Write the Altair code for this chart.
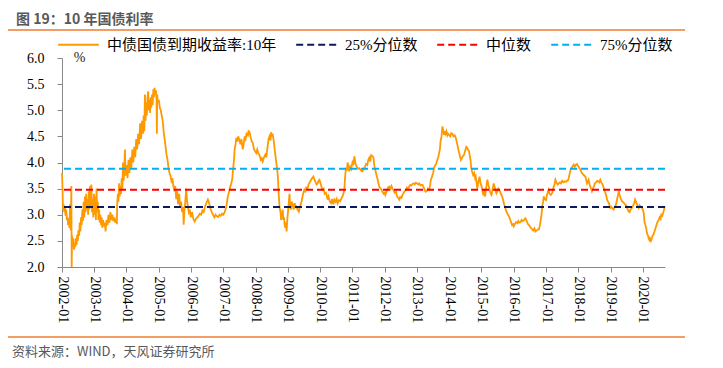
import altair as alt
import pandas as pd

# ---------------- data ----------------
line_name = "中债国债到期收益率:10年"
ref_names = ["25%分位数", "中位数", "75%分位数"]
ref_values = [3.15, 3.48, 3.88]

t_2002_2005 = [2002.00, 2002.01, 2002.02, 2002.03, 2002.05, 2002.07, 2002.09, 2002.11, 2002.13, 2002.15,
               2002.17, 2002.19, 2002.21, 2002.23, 2002.25, 2002.27, 2002.29, 2002.30, 2002.31, 2002.33,
               2002.35, 2002.37, 2002.39, 2002.41, 2002.43, 2002.45, 2002.47, 2002.49, 2002.51, 2002.53,
               2002.55, 2002.57, 2002.59, 2002.61, 2002.63, 2002.65, 2002.67, 2002.69, 2002.71, 2002.73,
               2002.75, 2002.77, 2002.79, 2002.81, 2002.83, 2002.85, 2002.87, 2002.89, 2002.91, 2002.93,
               2002.95, 2002.97, 2002.99, 2003.01, 2003.03, 2003.05, 2003.07, 2003.09, 2003.11, 2003.13,
               2003.15, 2003.17, 2003.19, 2003.21, 2003.23, 2003.25, 2003.27, 2003.30, 2003.33, 2003.35,
               2003.38, 2003.41, 2003.44, 2003.47, 2003.50, 2003.53, 2003.56, 2003.59, 2003.62, 2003.65,
               2003.68, 2003.70, 2003.71, 2003.73, 2003.75, 2003.77, 2003.79, 2003.81, 2003.83, 2003.85,
               2003.87, 2003.89, 2003.91, 2003.93, 2003.95, 2003.97, 2004.00, 2004.03, 2004.06, 2004.09,
               2004.12, 2004.15, 2004.18, 2004.21, 2004.24, 2004.27, 2004.30, 2004.33, 2004.36, 2004.39,
               2004.42, 2004.45, 2004.48, 2004.51, 2004.53, 2004.55, 2004.57, 2004.59, 2004.61, 2004.63,
               2004.65, 2004.67, 2004.69, 2004.71, 2004.73, 2004.75, 2004.77, 2004.79, 2004.81, 2004.83,
               2004.85, 2004.87, 2004.89, 2004.91, 2004.93, 2004.94, 2004.95, 2004.97]
v_2002_2005 = [3.80, 3.62, 3.40, 3.10, 3.20, 3.05, 3.15, 2.98, 3.10, 2.90,
               2.95, 2.80, 2.92, 2.75, 3.20, 2.70, 3.55, 2.00, 2.60, 2.45,
               2.55, 2.33, 2.45, 2.38, 2.55, 2.42, 2.62, 2.50, 2.70, 2.60,
               2.85, 2.68, 2.95, 2.80, 3.10, 2.88, 3.25, 2.95, 3.35, 3.05,
               3.40, 3.10, 3.30, 3.00, 3.45, 3.10, 3.55, 3.15, 3.58, 3.05,
               3.30, 2.95, 3.40, 3.00, 3.35, 2.90, 3.50, 3.05, 3.25, 2.90,
               3.10, 2.85, 3.00, 2.80, 2.95, 2.75, 2.90, 2.78, 2.85, 2.68,
               2.90, 2.80, 3.00, 2.85, 3.05, 2.90, 3.00, 2.88, 2.95, 2.85,
               2.92, 2.82, 3.20, 3.40, 3.25, 3.60, 3.35, 3.55, 3.40, 3.70,
               3.50, 4.00, 3.65, 3.85, 4.25, 3.75, 3.95, 3.70, 4.05, 3.80,
               4.10, 3.90, 4.25, 4.00, 4.30, 4.10, 4.45, 4.25, 4.55, 4.35,
               4.75, 4.45, 4.80, 4.55, 4.90, 4.60, 5.30, 4.80, 5.15, 4.90,
               5.25, 5.36, 5.00, 5.20, 4.95, 5.25, 5.05, 5.30, 5.10, 5.40,
               5.25, 5.43, 5.30, 5.38, 5.20, 4.55, 5.30, 5.15]

t_2005_2010 = [2005.00, 2005.03, 2005.06, 2005.09, 2005.12, 2005.15, 2005.18, 2005.21, 2005.24, 2005.27,
               2005.30, 2005.33, 2005.36, 2005.39, 2005.42, 2005.45, 2005.48, 2005.51, 2005.54, 2005.57,
               2005.60, 2005.63, 2005.66, 2005.69, 2005.72, 2005.75, 2005.77, 2005.79, 2005.82, 2005.85,
               2005.87, 2005.90, 2005.93, 2005.96, 2005.99, 2006.03, 2006.07, 2006.11, 2006.15, 2006.19,
               2006.23, 2006.27, 2006.31, 2006.35, 2006.39, 2006.43, 2006.47, 2006.52, 2006.56, 2006.60,
               2006.64, 2006.68, 2006.72, 2006.76, 2006.80, 2006.84, 2006.88, 2006.92, 2006.96, 2007.00,
               2007.04, 2007.09, 2007.14, 2007.18, 2007.22, 2007.25, 2007.28, 2007.30, 2007.33, 2007.35,
               2007.38, 2007.40, 2007.43, 2007.46, 2007.50, 2007.53, 2007.56, 2007.60, 2007.63, 2007.66,
               2007.69, 2007.72, 2007.76, 2007.78, 2007.81, 2007.84, 2007.88, 2007.91, 2007.95, 2007.98,
               2008.02, 2008.05, 2008.08, 2008.12, 2008.16, 2008.19, 2008.22, 2008.26, 2008.30, 2008.33,
               2008.37, 2008.40, 2008.43, 2008.46, 2008.48, 2008.51, 2008.53, 2008.56, 2008.58, 2008.61,
               2008.64, 2008.67, 2008.69, 2008.71, 2008.74, 2008.77, 2008.79, 2008.82, 2008.84, 2008.86,
               2008.88, 2008.90, 2008.92, 2008.94, 2008.96, 2008.98]
v_2005_2010 = [5.20, 5.05, 5.00, 4.90, 4.80, 4.60, 4.45, 4.30, 4.15, 4.05,
               3.90, 3.80, 3.75, 3.65, 3.70, 3.55, 3.45, 3.55, 3.30, 3.45,
               3.20, 3.40, 3.15, 3.25, 3.05, 3.15, 2.81, 3.05, 3.25, 3.50,
               3.30, 3.15, 3.05, 3.10, 2.95, 3.05, 2.92, 2.87, 2.92, 2.95,
               2.98, 3.02, 3.00, 3.08, 3.05, 3.15, 3.22, 3.29, 3.22, 3.12,
               3.05, 3.00, 2.95, 3.00, 2.97, 2.96, 3.00, 2.98, 3.02, 3.00,
               3.05, 3.15, 3.35, 3.45, 3.55, 3.61, 3.70, 3.86, 4.05, 4.25,
               4.35, 4.47, 4.40, 4.50, 4.42, 4.35, 4.45, 4.25, 4.35, 4.50,
               4.45, 4.55, 4.52, 4.60, 4.58, 4.50, 4.40, 4.38, 4.25, 4.22,
               4.18, 4.25, 4.18, 4.14, 4.05, 4.08, 4.02, 4.10, 4.15, 4.10,
               4.30, 4.45, 4.50, 4.42, 4.58, 4.50, 4.55, 4.42, 4.31, 4.15,
               4.00, 3.85, 3.73, 3.45, 3.16, 3.05, 2.90, 3.00, 3.10, 2.90,
               2.95, 2.80, 2.75, 2.85, 2.68, 2.90]

t_2009_2015 = [2009.01, 2009.03, 2009.05, 2009.07, 2009.10, 2009.12, 2009.15, 2009.18, 2009.21, 2009.24,
               2009.26, 2009.30, 2009.34, 2009.37, 2009.41, 2009.44, 2009.47, 2009.51, 2009.54, 2009.57,
               2009.61, 2009.64, 2009.68, 2009.72, 2009.75, 2009.79, 2009.82, 2009.86, 2009.89, 2009.92,
               2009.95, 2009.98, 2010.02, 2010.05, 2010.08, 2010.11, 2010.14, 2010.18, 2010.21, 2010.23,
               2010.26, 2010.30, 2010.34, 2010.37, 2010.41, 2010.44, 2010.48, 2010.51, 2010.54, 2010.58,
               2010.62, 2010.65, 2010.69, 2010.72, 2010.75, 2010.77, 2010.80, 2010.83, 2010.85, 2010.88,
               2010.90, 2010.93, 2010.96, 2011.00, 2011.03, 2011.06, 2011.09, 2011.11, 2011.15, 2011.18,
               2011.21, 2011.25, 2011.28, 2011.31, 2011.35, 2011.39, 2011.42, 2011.46, 2011.49, 2011.52,
               2011.55, 2011.58, 2011.62, 2011.65, 2011.68, 2011.71, 2011.73, 2011.77, 2011.80, 2011.83,
               2011.87, 2011.90, 2011.93, 2011.97, 2012.00, 2012.02, 2012.06, 2012.10, 2012.14, 2012.18,
               2012.21, 2012.24, 2012.28, 2012.31, 2012.35, 2012.38, 2012.42, 2012.45, 2012.48, 2012.52,
               2012.55, 2012.59, 2012.62, 2012.66, 2012.69, 2012.72, 2012.76, 2012.79, 2012.83, 2012.86,
               2012.90, 2012.93, 2012.96, 2013.00, 2013.04, 2013.07, 2013.11, 2013.14, 2013.17, 2013.21,
               2013.24, 2013.27, 2013.31, 2013.34, 2013.38, 2013.41, 2013.43, 2013.46, 2013.50, 2013.53,
               2013.56, 2013.60, 2013.63, 2013.66, 2013.69, 2013.71, 2013.73, 2013.76, 2013.79, 2013.81,
               2013.84, 2013.86, 2013.88, 2013.91, 2013.94, 2013.96, 2013.99, 2014.03, 2014.06, 2014.10,
               2014.13, 2014.17, 2014.20, 2014.23, 2014.26, 2014.28, 2014.31, 2014.34, 2014.36, 2014.39,
               2014.42, 2014.46, 2014.49, 2014.51, 2014.53, 2014.56, 2014.58, 2014.61, 2014.63, 2014.66,
               2014.68, 2014.71, 2014.74, 2014.77, 2014.80, 2014.82, 2014.85, 2014.87, 2014.90, 2014.92,
               2014.94, 2014.97]
v_2009_2015 = [3.10, 3.25, 3.40, 3.15, 3.10, 3.25, 3.20, 3.10, 3.22, 3.15,
               3.16, 3.10, 3.06, 3.15, 3.22, 3.30, 3.40, 3.48, 3.45, 3.52,
               3.50, 3.58, 3.62, 3.67, 3.70, 3.73, 3.68, 3.62, 3.58, 3.60,
               3.65, 3.67, 3.58, 3.52, 3.48, 3.50, 3.40, 3.42, 3.35, 3.29,
               3.35, 3.25, 3.22, 3.30, 3.20, 3.29, 3.25, 3.30, 3.22, 3.28,
               3.26, 3.30, 3.35, 3.40, 3.48, 3.70, 3.90, 3.85, 4.00, 3.90,
               3.83, 3.92, 3.88, 4.00, 3.95, 4.12, 4.00, 3.95, 3.90, 3.88,
               3.89, 3.86, 3.84, 3.83, 3.88, 3.92, 3.97, 3.95, 4.05, 4.09,
               4.02, 4.14, 4.12, 4.10, 3.93, 3.85, 3.80, 3.70, 3.62, 3.54,
               3.50, 3.48, 3.44, 3.40, 3.42, 3.38, 3.45, 3.52, 3.54, 3.50,
               3.55, 3.50, 3.46, 3.42, 3.44, 3.35, 3.32, 3.29, 3.34, 3.32,
               3.38, 3.42, 3.45, 3.48, 3.52, 3.50, 3.54, 3.57, 3.56, 3.59,
               3.60, 3.58, 3.61, 3.60, 3.58, 3.60, 3.56, 3.57, 3.57, 3.52,
               3.47, 3.44, 3.46, 3.50, 3.48, 3.58, 3.67, 3.72, 3.80, 3.90,
               3.94, 3.98, 4.05, 4.10, 4.20, 4.25, 4.40, 4.50, 4.69, 4.62,
               4.53, 4.60, 4.55, 4.60, 4.52, 4.55, 4.53, 4.50, 4.56, 4.55,
               4.50, 4.52, 4.48, 4.40, 4.32, 4.25, 4.18, 4.10, 4.05, 4.08,
               4.12, 4.15, 4.22, 4.26, 4.30, 4.28, 4.24, 4.22, 4.15, 4.05,
               3.90, 3.82, 3.76, 3.80, 3.70, 3.73, 3.60, 3.50, 3.62, 3.68,
               3.73, 3.60]

t_2015_2020 = [2015.00, 2015.02, 2015.05, 2015.08, 2015.11, 2015.13, 2015.16, 2015.18, 2015.21, 2015.23,
               2015.26, 2015.29, 2015.31, 2015.34, 2015.36, 2015.38, 2015.41, 2015.44, 2015.46, 2015.49,
               2015.52, 2015.54, 2015.57, 2015.60, 2015.64, 2015.67, 2015.70, 2015.73, 2015.75, 2015.78,
               2015.82, 2015.85, 2015.88, 2015.92, 2015.95, 2015.98, 2016.00, 2016.03, 2016.07, 2016.11,
               2016.14, 2016.17, 2016.21, 2016.24, 2016.28, 2016.31, 2016.34, 2016.36, 2016.40, 2016.44,
               2016.47, 2016.50, 2016.54, 2016.57, 2016.60, 2016.64, 2016.67, 2016.71, 2016.75, 2016.78,
               2016.81, 2016.83, 2016.86, 2016.88, 2016.91, 2016.93, 2016.96, 2017.00, 2017.03, 2017.06,
               2017.08, 2017.11, 2017.15, 2017.19, 2017.22, 2017.26, 2017.29, 2017.32, 2017.36, 2017.39,
               2017.43, 2017.46, 2017.50, 2017.54, 2017.58, 2017.62, 2017.65, 2017.68, 2017.70, 2017.73,
               2017.76, 2017.79, 2017.83, 2017.86, 2017.89, 2017.92, 2017.96, 2017.98, 2018.01, 2018.04,
               2018.08, 2018.11, 2018.14, 2018.18, 2018.22, 2018.25, 2018.27, 2018.30, 2018.32, 2018.35,
               2018.38, 2018.42, 2018.45, 2018.48, 2018.51, 2018.55, 2018.58, 2018.62, 2018.65, 2018.68,
               2018.71, 2018.75, 2018.79, 2018.82, 2018.86, 2018.89, 2018.92, 2018.96, 2018.99, 2019.02,
               2019.06, 2019.09, 2019.12, 2019.16, 2019.20, 2019.23, 2019.25, 2019.28, 2019.32, 2019.35,
               2019.39, 2019.42, 2019.46, 2019.49, 2019.52, 2019.56, 2019.59, 2019.62, 2019.66, 2019.70,
               2019.73, 2019.76, 2019.79, 2019.83, 2019.87, 2019.90, 2019.94, 2019.97, 2020.00, 2020.03,
               2020.05, 2020.08, 2020.10, 2020.12, 2020.14, 2020.16, 2020.18, 2020.20, 2020.22, 2020.25,
               2020.28, 2020.30, 2020.33, 2020.36, 2020.38, 2020.41, 2020.44, 2020.47, 2020.49, 2020.52,
               2020.55, 2020.57, 2020.60, 2020.62, 2020.65, 2020.68]
v_2015_2020 = [3.55, 3.48, 3.40, 3.45, 3.35, 3.45, 3.58, 3.67, 3.58, 3.54,
               3.45, 3.40, 3.38, 3.48, 3.55, 3.60, 3.52, 3.45, 3.41, 3.45,
               3.50, 3.48, 3.45, 3.40, 3.35, 3.28, 3.20, 3.15, 3.10, 3.05,
               3.00, 2.97, 2.92, 2.85, 2.80, 2.82, 2.78, 2.82, 2.86, 2.84,
               2.88, 2.85, 2.86, 2.90, 2.88, 2.89, 2.92, 2.93, 2.88, 2.82,
               2.80, 2.78, 2.74, 2.72, 2.70, 2.74, 2.68, 2.70, 2.72, 2.72,
               2.80, 2.88, 3.00, 3.16, 3.25, 3.35, 3.30, 3.28, 3.38, 3.45,
               3.48, 3.40, 3.38, 3.42, 3.50, 3.58, 3.67, 3.62, 3.58, 3.60,
               3.62, 3.60, 3.65, 3.62, 3.64, 3.63, 3.65, 3.66, 3.70, 3.78,
               3.86, 3.90, 3.93, 3.96, 3.92, 3.95, 3.97, 3.94, 3.92, 3.88,
               3.84, 3.80, 3.78, 3.75, 3.73, 3.65, 3.60, 3.64, 3.67, 3.58,
               3.52, 3.45, 3.50, 3.54, 3.60, 3.62, 3.65, 3.64, 3.62, 3.67,
               3.62, 3.58, 3.51, 3.45, 3.38, 3.29, 3.25, 3.20, 3.13, 3.15,
               3.12, 3.10, 3.14, 3.18, 3.29, 3.38, 3.45, 3.38, 3.30, 3.26,
               3.24, 3.22, 3.19, 3.18, 3.12, 3.06, 3.05, 3.10, 3.13, 3.18,
               3.22, 3.29, 3.24, 3.18, 3.13, 3.18, 3.15, 3.13, 3.10, 3.02,
               2.86, 2.80, 2.75, 2.68, 2.62, 2.60, 2.55, 2.52, 2.55, 2.50,
               2.55, 2.60, 2.62, 2.68, 2.72, 2.78, 2.84, 2.88, 2.90, 2.95,
               2.92, 3.00, 2.98, 3.02, 3.08, 3.16]

y_ticks = [2.0, 2.5, 3.0, 3.5, 4.0, 4.5, 5.0, 5.5, 6.0]
x_tick_years = list(range(2002, 2021))

title_text = "图 19：10 年国债利率"
source_text = "资料来源：WIND，天风证券研究所"

# ---------------- tables ----------------
t_all = t_2002_2005 + t_2005_2010 + t_2009_2015 + t_2015_2020
v_all = v_2002_2005 + v_2005_2010 + v_2009_2015 + v_2015_2020
base = pd.Timestamp("2002-01-01")
dates = [base + pd.Timedelta(days=(t - 2002) * 365.25) for t in t_all]
line_df = pd.DataFrame({"date": dates, "value": v_all, "series": line_name})
ref_df = pd.DataFrame({"series": ref_names, "value": ref_values})

series_domain = [line_name] + ref_names
color_range = ["#FF9900", "#0B1A5C", "#FF0000", "#00B0F0"]
dash_range = [[1, 0], [7, 4], [7, 4], [7, 4]]

CJK = "Noto Sans CJK SC"
SERIF = "Liberation Serif, Noto Sans CJK SC"

legend = alt.Legend(
    title=None, orient="none", legendX=-5, legendY=-35, direction="horizontal",
    columns=4, symbolType="stroke", symbolSize=1650, symbolStrokeWidth=2,
    labelFont=SERIF, labelFontSize=15, labelColor="#000000", labelOffset=7,
    columnPadding=15, padding=0, labelLimit=400,
)
color_enc = alt.Color("series:N", scale=alt.Scale(domain=series_domain, range=color_range), legend=legend)
dash_enc = alt.StrokeDash("series:N", scale=alt.Scale(domain=series_domain, range=dash_range), legend=legend)

y_axis = alt.Axis(
    values=y_ticks, format=".1f", title="%", titleAngle=0, titleX=17, titleY=3,
    titleAlign="center", titleBaseline="alphabetic", titleFont=SERIF, titleFontSize=14,
    titleFontWeight="normal", titleColor="#222222",
    labelFont=SERIF, labelFontSize=14, labelColor="#000000", labelPadding=13,
    labelOverlap=False, tickCount=9,
    tickSize=5, tickColor="#888888", domainColor="#888888", grid=False,
)
y_scale = alt.Scale(domain=[2, 6], nice=False, zero=False)

x_enc = alt.X(
    "date:T",
    scale=alt.Scale(domain=[alt.DateTime(year=2002, month=1, date=1),
                            alt.DateTime(year=2020, month=9, date=8)]),
    axis=alt.Axis(
        values=[alt.DateTime(year=y, month=1, date=1) for y in x_tick_years],
        format="%Y-%m", labelAngle=90, labelFont=SERIF, labelFontSize=14,
        labelColor="#000000", labelPadding=4, labelFlush=False, labelOverlap=False,
        tickSize=5, tickColor="#888888", domainColor="#888888", grid=False, title=None,
    ),
)

line = alt.Chart(line_df).mark_line(strokeWidth=1.8).encode(
    x=x_enc, y=alt.Y("value:Q", scale=y_scale, axis=y_axis),
    color=color_enc, strokeDash=dash_enc
)
rules = alt.Chart(ref_df).mark_rule(strokeWidth=2).encode(
    y=alt.Y("value:Q", scale=y_scale, axis=y_axis),
    color=color_enc, strokeDash=dash_enc
)

one = pd.DataFrame({"k": [0]})
top_bar = alt.Chart(one).mark_rule(color="#ED7D31", strokeWidth=1.5).encode(
    x=alt.value(-57), x2=alt.value(623), y=alt.value(-28)
)
bottom_bar = alt.Chart(one).mark_rule(color="#ED7D31", strokeWidth=1.5).encode(
    x=alt.value(-62), x2=alt.value(623), y=alt.value(279)
)
title = alt.Chart(pd.DataFrame({"label": [title_text]})).mark_text(
    align="left", baseline="middle", font=CJK, fontSize=14, fontWeight="bold", color="#595959"
).encode(x=alt.value(-46), y=alt.value(-38), text="label:N")
source = alt.Chart(pd.DataFrame({"label": [source_text]})).mark_text(
    align="left", baseline="middle", font=CJK, fontSize=13, color="#595959"
).encode(x=alt.value(-50), y=alt.value(294), text="label:N")

chart = alt.layer(line, rules, top_bar, bottom_bar, title, source).properties(
    width=603, height=209,
    autosize=alt.AutoSizeParams(type="none"),
    padding={"left": 54, "top": 50, "right": 46, "bottom": 92},
    background="white",
).configure_view(strokeWidth=0)

chart.save("out.html", embed_options={"renderer": "svg", "actions": False})
